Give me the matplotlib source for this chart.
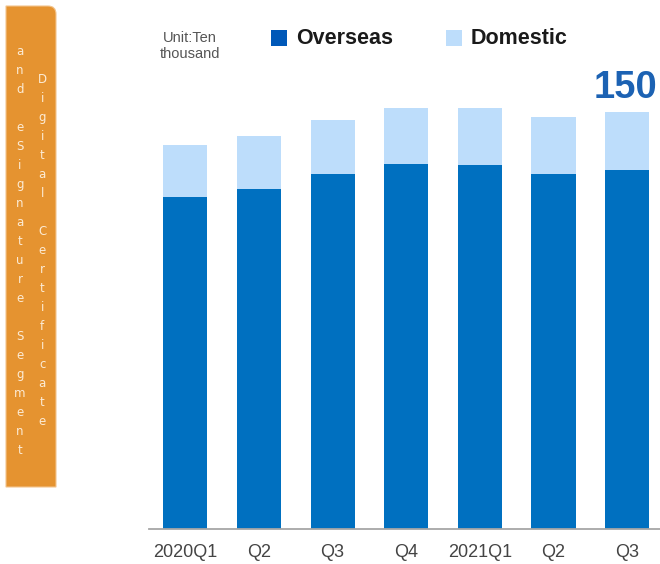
import matplotlib
matplotlib.use("Agg")
import matplotlib.pyplot as plt
from matplotlib.patches import Rectangle, PathPatch
from matplotlib.path import Path

# ---- data ----
categories = ["2020Q1", "Q2", "Q3", "Q4", "2021Q1", "Q2", "Q3"]
overseas = [119.3, 122.3, 127.6, 131.3, 131.0, 127.8, 129.0]
domestic = [18.7, 19.2, 19.6, 20.2, 20.5, 20.4, 21.0]
last_total_label = "150"
legend_labels = ["Overseas", "Domestic"]
unit_text = "Unit:Ten\nthousand"
side_col_right = "Digital Certificate"
side_col_left = "and eSignature Segment"

DARK = "#0070C0"
LIGHT = "#BDDDFB"
LEG_DARK = "#0058B8"
ORANGE = "#E59330"

W, H = 660, 564
fig = plt.figure(figsize=(W / 100, H / 100), dpi=100)

# overlay in pixel coordinates
ov = fig.add_axes([0, 0, 1, 1], zorder=0)
ov.set_xlim(0, W)
ov.set_ylim(H, 0)
ov.axis("off")

# orange side panel with rounded top-right corner
x0, x1, y0, y1, r = 6, 56, 6, 487, 8
verts = [(x0, y0), (x1 - r, y0), (x1, y0), (x1, y0 + r), (x1, y1), (x0, y1), (x0, y0)]
codes = [Path.MOVETO, Path.LINETO, Path.CURVE3, Path.CURVE3, Path.LINETO, Path.LINETO, Path.CLOSEPOLY]
ov.add_patch(PathPatch(Path(verts, codes), facecolor=ORANGE, edgecolor="#F3C58E", lw=0.8))

step = 19.0
def vertical(text, x, ystart):
    y = ystart
    for ch in text:
        if ch != " ":
            ov.text(x, y, ch, color="#FCEBD5", fontsize=8.5, ha="center", va="center",
                    family="DejaVu Sans")
        y += step

vertical(side_col_right, 42.3, 79.3)
vertical(side_col_left, 20, 51.7)

# unit text
ov.text(190, 46, unit_text, ha="center", va="center", fontsize=10.5, color="#555555",
        family="Liberation Sans", linespacing=1.1)

# legend
ov.add_patch(Rectangle((271, 30), 16, 16, facecolor=LEG_DARK, edgecolor="none"))
ov.text(296, 39, legend_labels[0], ha="left", va="center", fontsize=15.5, fontweight="bold",
        color="#1a1a1a", family="Liberation Sans")
ov.add_patch(Rectangle((446, 30), 16, 16, facecolor=LIGHT, edgecolor="none"))
ov.text(471, 39, legend_labels[1], ha="left", va="center", fontsize=15.5, fontweight="bold",
        color="#1a1a1a", family="Liberation Sans")

# main axes
left_px, base_px, top_px = 148.5, 529, 29
ax = fig.add_axes([left_px / W, (H - base_px) / H, (W - left_px) / W, (base_px - top_px) / H], zorder=1)
ax.patch.set_alpha(0)
x = list(range(len(categories)))
ax.bar(x, overseas, width=0.6, color=DARK, edgecolor="none")
ax.bar(x, domestic, bottom=overseas, width=0.6, color=LIGHT, edgecolor="none")
ax.set_xlim(-0.5, 6.446)
ax.set_ylim(0, 150 * (base_px - top_px) / (base_px - 112))
for s in ["top", "right", "left"]:
    ax.spines[s].set_visible(False)
ax.spines["bottom"].set_color("#A6A6A6")
ax.spines["bottom"].set_linewidth(1.3)
ax.set_yticks([])
ax.set_xticks(x)
ax.set_xticklabels(categories, fontsize=13, color="#444444", family="Liberation Sans")
ax.tick_params(axis="x", length=0, pad=10.5)

ov.text(657, 97.5, last_total_label, ha="right", va="baseline", fontsize=27.5, fontweight="bold",
        color="#1C62B3", family="Liberation Sans")

fig.savefig("out.png", dpi=100)
